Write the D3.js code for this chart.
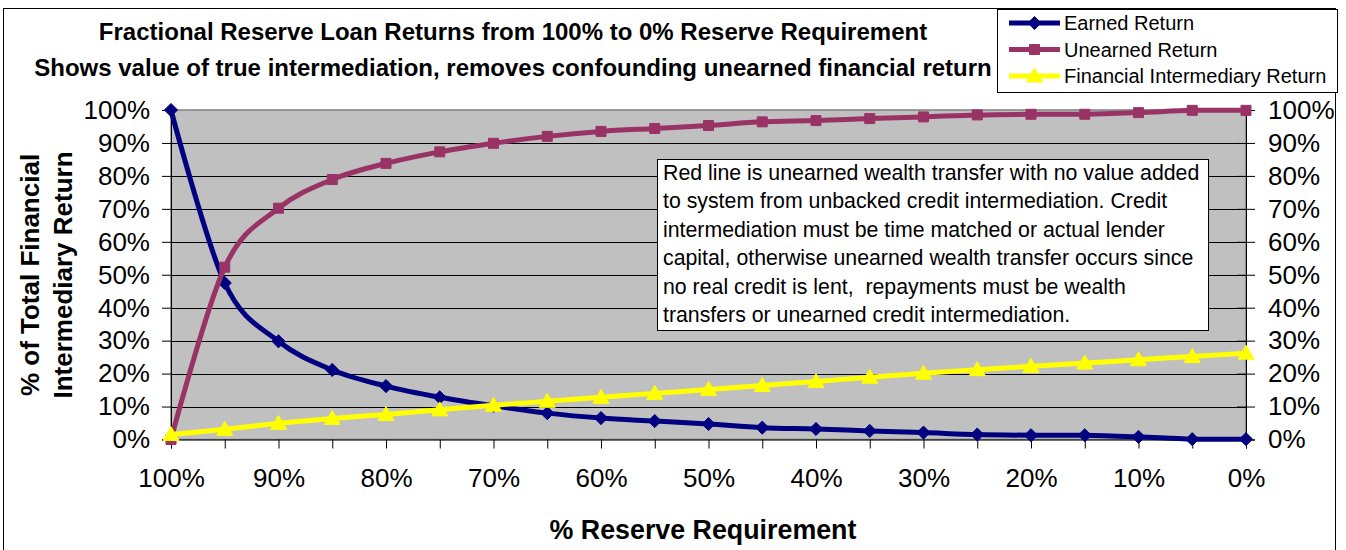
<!DOCTYPE html>
<html>
<head>
<meta charset="utf-8">
<script src="https://cdn.jsdelivr.net/npm/d3@7"></script>
<style>
  html, body { margin: 0; padding: 0; background: #fff; }
  svg { display: block; font-family: "Liberation Sans", Arial, sans-serif; }
</style>
</head>
<body>
<svg id="chart" width="1346" height="550"></svg>
<script>
// Reserve requirement categories (left to right)
const categories = ["100%","95%","90%","85%","80%","75%","70%","65%","60%","55%","50%",
                    "45%","40%","35%","30%","25%","20%","15%","10%","5%","0%"];
// Returns as a share of total financial intermediary return (%)
const earnedReturn   = [100, 47.5, 29.8, 21.1, 16.2, 12.8, 10.2, 8.0, 6.5, 5.6, 4.7,
                        3.6, 3.2, 2.6, 2.1, 1.5, 1.3, 1.3, 0.8, 0.1, 0.1];
const unearnedReturn = [0, 52.3, 70.2, 78.9, 83.8, 87.3, 89.9, 92.0, 93.5, 94.4, 95.3,
                        96.4, 96.8, 97.4, 97.9, 98.5, 98.7, 98.7, 99.2, 99.9, 99.9];
const intermediaryReturn = [1.5, 3.1, 4.9, 6.4, 7.6, 9.0, 10.4, 11.6, 12.8, 14.0, 15.2,
                            16.4, 17.6, 18.9, 20.1, 21.2, 22.2, 23.2, 24.2, 25.2, 26.2];
const yTicks = [0, 10, 20, 30, 40, 50, 60, 70, 80, 90, 100];
const xLabelCats = categories.filter((d, i) => i % 2 === 0);

const titleLines = [
  "Fractional Reserve Loan Returns from 100% to 0% Reserve Requirement",
  "Shows value of true intermediation, removes confounding unearned financial return"
];
const noteLines = [
  "Red line is unearned wealth transfer with no value added",
  "to system from unbacked credit intermediation. Credit",
  "intermediation must be time matched or actual lender",
  "capital, otherwise unearned wealth transfer occurs since",
  "no real credit is lent,  repayments must be wealth",
  "transfers or unearned credit intermediation."
];

const series = [
  { name: "Earned Return", values: earnedReturn, color: "#000080", marker: "diamond" },
  { name: "Unearned Return", values: unearnedReturn, color: "#993366", marker: "square" },
  { name: "Financial Intermediary Return", values: intermediaryReturn, color: "#FFFF00", marker: "triangle" }
];

const svg = d3.select("#chart");
const plot = { left: 171, right: 1246, top: 110, bottom: 439.5 };

const x = d3.scalePoint().domain(categories).range([plot.left, plot.right]);
const y = d3.scaleLinear().domain([0, 100]).range([plot.bottom, plot.top]);

// chart area frame
svg.append("rect").attr("x", 3.5).attr("y", 8.5).attr("width", 1332).attr("height", 560)
  .attr("fill", "#fff").attr("stroke", "#000").attr("stroke-width", 1);

// plot area
svg.append("rect").attr("x", plot.left).attr("y", plot.top)
  .attr("width", plot.right - plot.left).attr("height", plot.bottom - plot.top)
  .attr("fill", "#C0C0C0").attr("stroke", "#808080").attr("stroke-width", 1.5);

// horizontal gridlines
svg.append("g").selectAll("line").data(yTicks.filter(d => d > 0 && d < 100)).join("line")
  .attr("x1", plot.left).attr("x2", plot.right)
  .attr("y1", d => Math.round(y(d)) + 0.5).attr("y2", d => Math.round(y(d)) + 0.5)
  .attr("stroke", "#000").attr("stroke-width", 1);

const pct = d => d + "%";

// left value axis
const leftAxis = svg.append("g").attr("transform", `translate(${plot.left},0)`)
  .call(d3.axisLeft(y).tickValues(yTicks).tickFormat(pct).tickSize(9).tickPadding(12));
leftAxis.select(".domain").attr("stroke", "#000");
leftAxis.selectAll(".tick line").attr("stroke", "#000");
leftAxis.selectAll(".tick text").attr("font-size", 26).attr("fill", "#000")
  .attr("font-family", "Liberation Sans, Arial, sans-serif");

// right value axis (ticks cross the axis line)
const rightAxis = svg.append("g").attr("transform", `translate(${plot.right},0)`)
  .call(d3.axisRight(y).tickValues(yTicks).tickFormat(pct).tickSize(9).tickPadding(13));
rightAxis.selectAll(".tick line").attr("x1", -9).attr("stroke", "#000");
rightAxis.select(".domain").attr("stroke", "#000");
rightAxis.selectAll(".tick text").attr("font-size", 26).attr("fill", "#000")
  .attr("font-family", "Liberation Sans, Arial, sans-serif");

// category axis
const bottomAxis = svg.append("g").attr("transform", `translate(0,${plot.bottom})`)
  .call(d3.axisBottom(x).tickSize(9).tickPadding(0).tickFormat(d => xLabelCats.includes(d) ? d : ""));
bottomAxis.select(".domain").attr("stroke", "#000");
bottomAxis.selectAll(".tick line").attr("stroke", "#000");
bottomAxis.selectAll(".tick text").attr("font-size", 26).attr("fill", "#000")
  .attr("dy", 0).attr("y", 47.5)
  .attr("font-family", "Liberation Sans, Arial, sans-serif");

// marker shapes
const markerPath = {
  diamond: d3.symbol().type(d3.symbolDiamond2).size(110)(),
  square: d3.symbol().type(d3.symbolSquare).size(100)(),
  triangle: "M0,-8L8,6L-8,6Z"
};

const line = d3.line().curve(d3.curveCardinal.tension(0))
  .x((d, i) => x(categories[i])).y(d => y(d));

series.forEach(s => {
  const g = svg.append("g");
  g.append("path").attr("d", line(s.values)).attr("fill", "none")
    .attr("stroke", s.color).attr("stroke-width", 5).attr("stroke-linejoin", "round");
  g.selectAll("path.m").data(s.values).join("path").attr("class", "m")
    .attr("d", markerPath[s.marker])
    .attr("transform", (d, i) => `translate(${x(categories[i])},${y(d)})`)
    .attr("fill", s.color).attr("stroke", s.color).attr("stroke-width", 1);
});

// titles
svg.append("g").selectAll("text").data(titleLines).join("text")
  .attr("x", 513).attr("y", (d, i) => 40 + i * 36)
  .attr("text-anchor", "middle").attr("font-size", 24).attr("font-weight", "bold")
  .text(d => d);

svg.append("text").attr("x", 703).attr("y", 539).attr("text-anchor", "middle")
  .attr("font-size", 26.8).attr("font-weight", "bold").text("% Reserve Requirement");

svg.append("g").selectAll("text").data(["% of Total Financial", "Intermediary Return"]).join("text")
  .attr("transform", (d, i) => `translate(${39 + i * 33},${275}) rotate(-90)`)
  .attr("text-anchor", "middle").attr("font-size", 26).attr("font-weight", "bold")
  .text(d => d);

// note box
const note = svg.append("g");
note.append("rect").attr("x", 657.5).attr("y", 159.5).attr("width", 551).attr("height", 171)
  .attr("fill", "#fff").attr("stroke", "#000").attr("stroke-width", 1);
note.selectAll("text").data(noteLines).join("text")
  .attr("x", 663).attr("y", (d, i) => 180 + i * 28.4)
  .attr("font-size", 21.3).attr("xml:space", "preserve").style("white-space", "pre")
  .text(d => d);

// legend
const legend = svg.append("g");
legend.append("rect").attr("x", 997.5).attr("y", 9.5).attr("width", 340).attr("height", 83)
  .attr("fill", "#fff").attr("stroke", "#000").attr("stroke-width", 1);
series.forEach((s, i) => {
  const cy = 23 + i * 26.5;
  legend.append("line").attr("x1", 1009).attr("x2", 1060).attr("y1", cy).attr("y2", cy)
    .attr("stroke", s.color).attr("stroke-width", 5);
  legend.append("path").attr("d", markerPath[s.marker])
    .attr("transform", `translate(1034.5,${cy})`)
    .attr("fill", s.color).attr("stroke", s.color);
  legend.append("text").attr("x", 1064).attr("y", cy + 7).attr("font-size", 20).text(s.name);
});
</script>
</body>
</html>
